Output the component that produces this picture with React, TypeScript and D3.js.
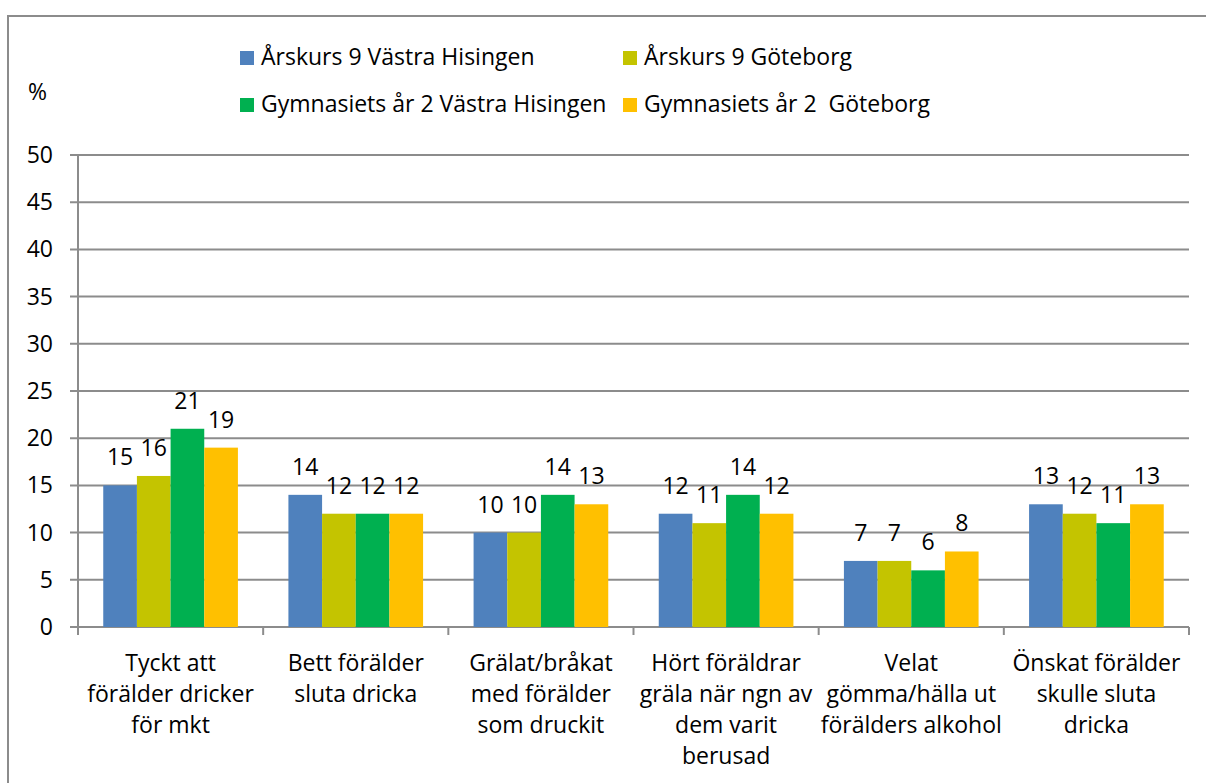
import React from "react";
import * as d3 from "d3";

const categories: string[][] = [
  ["Tyckt att", "förälder dricker", "för mkt"],
  ["Bett förälder", "sluta dricka"],
  ["Grälat/bråkat", "med förälder", "som druckit"],
  ["Hört föräldrar", "gräla när ngn av", "dem varit", "berusad"],
  ["Velat", "gömma/hälla ut", "förälders alkohol"],
  ["Önskat förälder", "skulle sluta", "dricka"],
];
const seriesNames = [
  "Årskurs 9 Västra Hisingen",
  "Årskurs 9 Göteborg",
  "Gymnasiets år 2 Västra Hisingen",
  "Gymnasiets år 2  Göteborg",
];
const ak9VH = [15, 14, 10, 12, 7, 13];
const ak9G = [16, 12, 10, 11, 7, 12];
const gyVH = [21, 12, 14, 14, 6, 11];
const gyG = [19, 12, 13, 12, 8, 13];
const colors = ["#4F81BD", "#C4C400", "#00B050", "#FFC000"];
const yTicks = [0, 5, 10, 15, 20, 25, 30, 35, 40, 45, 50];

const FONT = "'Open Sans', 'Noto Sans', sans-serif";

export default function App() {
  const W = 1206, H = 783;
  const left = 78, right = 1189, top = 155, bottom = 627;
  const series = [ak9VH, ak9G, gyVH, gyG];
  const idx = categories.map((_, i) => String(i));
  const x = d3.scaleBand().domain(idx).range([left, right]).paddingInner(0).paddingOuter(0);
  const y = d3.scaleLinear().domain([0, 50]).range([bottom, top]);
  const bw = x.bandwidth() / 5.5;
  const inner = d3.scaleBand().domain(["0", "1", "2", "3"]).range([0, bw * 4]);
  const grid = "#8C8C8C";
  const fs = 23;
  const legendItems = [
    { x: 240, y: 65 },
    { x: 623, y: 65 },
    { x: 240, y: 112 },
    { x: 623, y: 112 },
  ];
  return (
    <svg width={W} height={H} style={{ position: "absolute", left: 0, top: 0, fontFamily: FONT }}>
      <rect x={0} y={0} width={W} height={H} fill="#fff" />
      <path d={`M8,${H + 2}V16H${W + 2}`} fill="none" stroke={grid} strokeWidth={2} />
      {yTicks.map((t) => (
        <line key={t} x1={70} x2={right} y1={y(t)} y2={y(t)} stroke={grid} strokeWidth={2} />
      ))}
      <line x1={left} x2={left} y1={top} y2={bottom} stroke={grid} strokeWidth={2} />
      {idx.concat([String(categories.length)]).map((k, i) => {
        const xx = i < categories.length ? (x(k) as number) : right;
        return <line key={"t" + i} x1={xx} x2={xx} y1={bottom} y2={bottom + 8} stroke={grid} strokeWidth={2} />;
      })}
      {yTicks.map((t) => (
        <text key={"yl" + t} x={53} y={y(t) + 8} textAnchor="end" fontSize={fs} fill="#000">
          {t}
        </text>
      ))}
      <text x={28} y={100} fontSize={fs} fill="#000">%</text>
      {series.map((vals, s) =>
        vals.map((v, i) => {
          const bx = (x(String(i)) as number) + bw * 0.75 + (inner(String(s)) as number);
          return (
            <g key={s + "-" + i}>
              <rect x={bx} y={y(v)} width={bw} height={y(0) - y(v)} fill={colors[s]} />
              <text x={bx + bw / 2} y={y(v) - 20} textAnchor="middle" fontSize={fs} fill="#000">
                {v}
              </text>
            </g>
          );
        })
      )}
      {categories.map((lines, i) => (
        <text key={"c" + i} textAnchor="middle" fontSize={fs} fill="#000">
          {lines.map((ln, j) => (
            <tspan key={j} x={(x(String(i)) as number) + x.bandwidth() / 2} y={671 + j * 31}>
              {ln}
            </tspan>
          ))}
        </text>
      ))}
      {seriesNames.map((n, s) => (
        <g key={"lg" + s}>
          <rect x={legendItems[s].x} y={legendItems[s].y - 14} width={14} height={14} fill={colors[s]} />
          <text x={legendItems[s].x + 21} y={legendItems[s].y} fontSize={fs} fill="#000" style={{ whiteSpace: "pre" }}>
            {n}
          </text>
        </g>
      ))}
    </svg>
  );
}
